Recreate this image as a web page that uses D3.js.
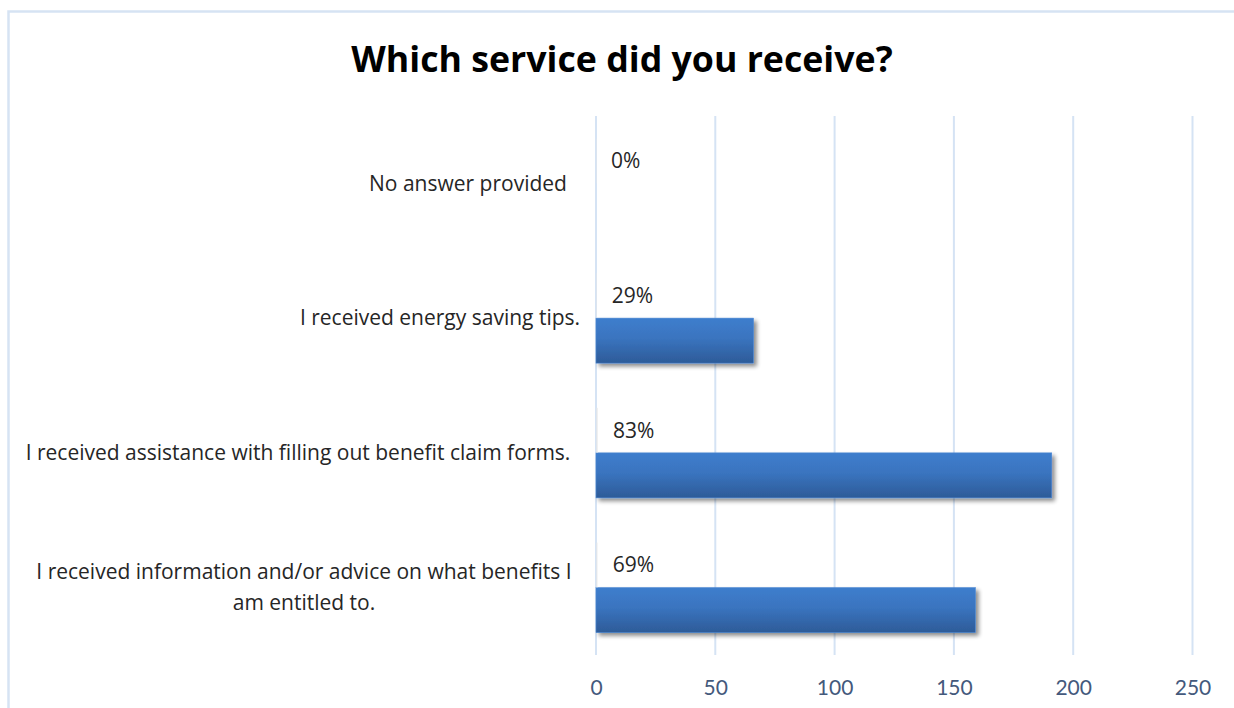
<!DOCTYPE html>
<html>
<head>
<meta charset="utf-8">
<script src="https://cdn.jsdelivr.net/npm/d3@7"></script>
<style>
  html, body { margin: 0; padding: 0; background: #ffffff; }
  svg { display: block; }
</style>
</head>
<body>
<script>
// Survey results: which service respondents received
const categories = [
  "No answer provided",
  "I received energy saving tips.",
  "I received assistance with filling out benefit claim forms.",
  "I received information and/or advice on what benefits I am entitled to."
];
const responseCounts = [0, 66, 191, 159];
const responseShares = [0.00, 0.29, 0.83, 0.69];
const xTicks = [0, 50, 100, 150, 200, 250];
const titleText = "Which service did you receive?";

const W = 1234, H = 708;
const font = "'Open Sans', Lato, sans-serif";
const tickFont = "Lato, 'Open Sans', sans-serif";

// label line breaks and horizontal centres for the category axis
const categoryLines = [
  ["No answer provided"],
  ["I received energy saving tips."],
  ["I received assistance with filling out benefit claim forms."],
  ["I received information and/or advice on what benefits I", "am entitled to."]
];
const categoryLabelCenters = [468, 440, 298, 304];

const svg = d3.select("body").append("svg")
  .attr("width", W).attr("height", H);

const defs = svg.append("defs");
const grad = defs.append("linearGradient")
  .attr("id", "barGrad").attr("x1", 0).attr("y1", 0).attr("x2", 0).attr("y2", 1);
grad.append("stop").attr("offset", "0%").attr("stop-color", "#3e7ecd");
grad.append("stop").attr("offset", "45%").attr("stop-color", "#3a74bf");
grad.append("stop").attr("offset", "100%").attr("stop-color", "#2d5b98");

const shadow = defs.append("filter").attr("id", "barShadow")
  .attr("x", "-10%").attr("y", "-30%").attr("width", "130%").attr("height", "180%");
shadow.append("feGaussianBlur").attr("in", "SourceAlpha").attr("stdDeviation", 2.2).attr("result", "blur");
shadow.append("feOffset").attr("in", "blur").attr("dx", 3).attr("dy", 3).attr("result", "off");
shadow.append("feComponentTransfer").attr("in", "off").attr("result", "soft")
  .append("feFuncA").attr("type", "linear").attr("slope", 0.45);
const merge = shadow.append("feMerge");
merge.append("feMergeNode").attr("in", "soft");
merge.append("feMergeNode").attr("in", "SourceGraphic");

// chart frame (open on the right and bottom edges)
svg.append("rect")
  .attr("x", 8.5).attr("y", 11.5)
  .attr("width", W + 20).attr("height", H + 20)
  .attr("fill", "#ffffff")
  .attr("stroke", "#d6e3f3").attr("stroke-width", 2.5);

// title
svg.append("text")
  .attr("x", 622).attr("y", 72)
  .attr("text-anchor", "middle")
  .attr("font-family", font).attr("font-weight", 700)
  .attr("font-size", 35.7).attr("fill", "#000000")
  .text(titleText);

const plot = { left: 596, right: 1192.5, top: 116, bottom: 655 };

const x = d3.scaleLinear()
  .domain([xTicks[0], xTicks[xTicks.length - 1]])
  .range([plot.left, plot.right]);

const y = d3.scaleBand()
  .domain(categories)
  .range([plot.top, plot.bottom])
  .paddingInner(0.332)
  .paddingOuter(0.166);

const sub = d3.scaleBand()
  .domain(["share", "count"])
  .range([0, y.bandwidth()]);

// vertical gridlines
svg.append("g")
  .selectAll("line")
  .data(xTicks)
  .join("line")
  .attr("x1", d => x(d)).attr("x2", d => x(d))
  .attr("y1", plot.top).attr("y2", plot.bottom)
  .attr("stroke", "#d5e3f4").attr("stroke-width", 2);

// x axis tick labels
const xAxis = d3.axisBottom(x).tickValues(xTicks).tickSize(0).tickPadding(0);
const gx = svg.append("g")
  .attr("transform", `translate(0,${plot.bottom})`)
  .call(xAxis);
gx.select(".domain").remove();
gx.selectAll("text")
  .attr("dy", 0).attr("y", 40)
  .attr("font-family", tickFont).attr("font-size", 21)
  .attr("fill", "#44597c");

// count bars
const rows = categories.map((c, i) => ({ c, count: responseCounts[i], share: responseShares[i] }));

svg.append("g")
  .selectAll("rect")
  .data(rows.filter(d => d.count > 0))
  .join("rect")
  .attr("x", x(0))
  .attr("y", d => y(d.c) + sub("count"))
  .attr("width", d => x(d.count) - x(0))
  .attr("height", sub.bandwidth())
  .attr("fill", "url(#barGrad)")
  .attr("stroke", "#4a86d2").attr("stroke-width", 0.6)
  .attr("filter", "url(#barShadow)");

// share bars (plotted on the same axis, so they are hairlines) and their labels
svg.append("g")
  .selectAll("rect")
  .data(rows)
  .join("rect")
  .attr("x", x(0))
  .attr("y", d => y(d.c) + sub("share"))
  .attr("width", d => Math.max(0.6, x(d.share) - x(0)))
  .attr("height", sub.bandwidth())
  .attr("fill", "#e6e6e6").attr("opacity", 0.6);

svg.append("g")
  .selectAll("text")
  .data(rows)
  .join("text")
  .attr("x", d => x(d.share) + 15)
  .attr("y", d => y(d.c) + sub("share") + sub.bandwidth() / 2)
  .attr("dy", "0.35em")
  .attr("font-family", font).attr("font-size", 21)
  .attr("fill", "#262626")
  .text(d => d3.format(".0%")(d.share));

// category labels
const lineH = 31;
const catG = svg.append("g");
categories.forEach((c, i) => {
  const lines = categoryLines[i];
  const cy = y(c) + y.bandwidth() / 2;
  const t = catG.append("text")
    .attr("text-anchor", "middle")
    .attr("font-family", font).attr("font-size", 21)
    .attr("fill", "#262626");
  lines.forEach((ln, j) => {
    t.append("tspan")
      .attr("x", categoryLabelCenters[i])
      .attr("y", cy + (j - (lines.length - 1) / 2) * lineH)
      .attr("dy", "0.35em")
      .text(ln);
  });
});
</script>
</body>
</html>
